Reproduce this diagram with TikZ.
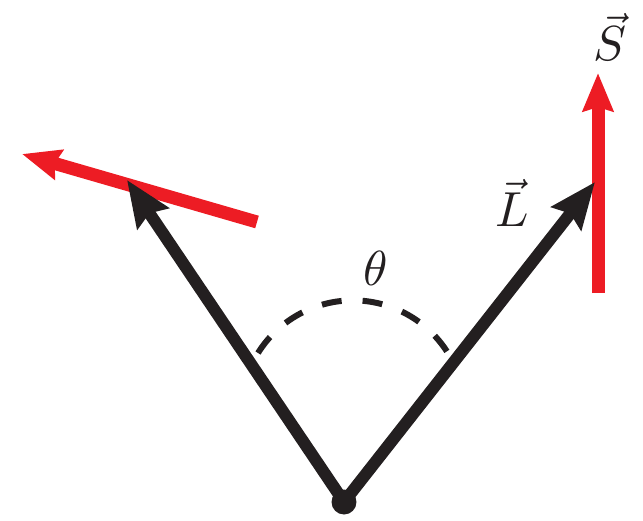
\documentclass[tikz,border=0pt]{standalone}
\usetikzlibrary{arrows.meta, positioning, calc}
\definecolor{SpinRed}{HTML}{ED1C24}
\definecolor{VecBlack}{HTML}{231F20}

\begin{document}
\begin{tikzpicture}[
    x=0.02cm, y=-0.02cm,
    orbit/.style={
        -{Stealth[length=0.92cm, width=0.74cm, inset=0.12cm]},
        line width=0.24cm, VecBlack
    },
    spin/.style={
        -{Stealth[length=0.76cm, width=0.6cm, inset=0.08cm]},
        line width=0.26cm, SpinRed
    },
    dot/.style={circle, fill=VecBlack, minimum size=0.5cm, inner sep=0pt},
    anglearc/.style={line width=0.12cm, VecBlack,
                     dash pattern=on 0.4cm off 0.42cm},
    vlabel/.style={scale=2.8, text=VecBlack, inner sep=0pt}
]
\useasboundingbox (0,0) rectangle (643,521);

% origin and vector ends
\node[dot] (origin) at (344,502) {};
\coordinate (Lleft) at (127,180);
\coordinate (Lright) at (595,182);
\coordinate (Sleft tail) at (257,222);
\coordinate (Sleft tip) at (22,154);
\coordinate (Sright tail) at (598,293);
\coordinate (Sright tip) at (598,73);
\coordinate (arcstart) at (258,353);

% spin vectors
\draw[spin] (Sleft tail) -- (Sleft tip);
\draw[spin] (Sright tail) -- (Sright tip);

% orbital vectors
\draw[orbit] (origin.center) -- (Lleft);
\draw[orbit] (origin.center) -- (Lright);

% angle between them
\draw[anglearc] (arcstart) arc[start angle=148, end angle=33, radius=2.24cm];

% labels
\node[vlabel] (Slabel) at (610,37) {$\vec{S}$};
\node[vlabel] (Llabel) at (512,203) {$\vec{L}$};
\node[vlabel] (thetalabel) at (376,268) {$\theta$};

\end{tikzpicture}
\end{document}
